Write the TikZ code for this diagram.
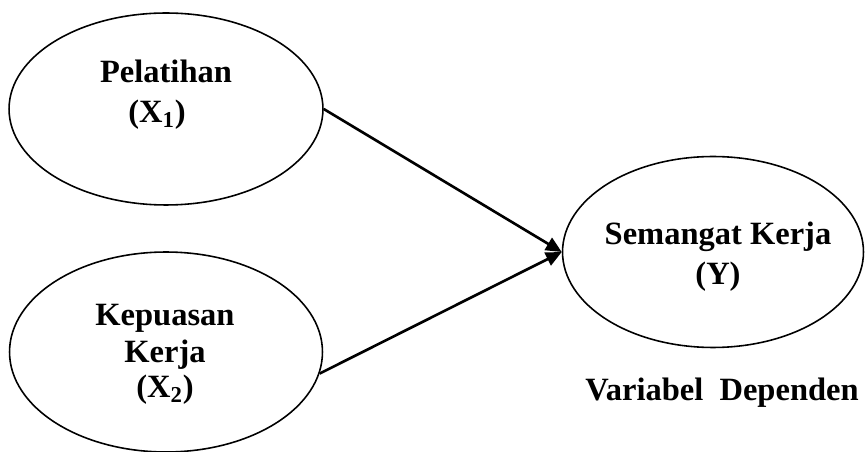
\documentclass[tikz,border=0pt]{standalone}
\usepackage{fontspec}
\setmainfont{Liberation Serif}
\usetikzlibrary{positioning, shapes.geometric, arrows.meta}

\begin{document}
\begin{tikzpicture}[x=0.02cm, y=-0.02cm, font=\fontsize{18.5}{22}\selectfont\bfseries,
  var/.style={draw, ellipse, line width=0.9pt, inner sep=0pt},
  txt/.style={anchor=base, inner sep=0pt},
  link/.style={line width=1.5pt, -{Triangle[length=9pt, width=8pt]}}]

\useasboundingbox (0,0) rectangle (865,452);

% variabel independen
\node[var, minimum width=6.28cm, minimum height=3.84cm] (pelatihan) at (166,109) {};
\node[var, minimum width=6.26cm, minimum height=4cm] (kepuasan) at (166,352) {};

% variabel dependen
\node[var, minimum width=6.02cm, minimum height=3.82cm] (semangat) at (713,252) {};

\node[txt] (pelatihanA) at (166,83) {Pelatihan};
\node[txt] (pelatihanB) at (157,123) {(X\textsubscript{1})};

\node[txt] (kepuasanA) at (165,326) {Kepuasan};
\node[txt] (kepuasanB) at (165,362) {Kerja};
\node[txt] (kepuasanC) at (165,398) {(X\textsubscript{2})};

\node[txt] (semangatA) at (718,245) {Semangat Kerja};
\node[txt] (semangatB) at (718,285) {(Y)};

\node[txt] (dependen) at (722,400) {Variabel\ \ Dependen};

\draw[link] (pelatihan.east) -- (semangat.west);
\draw[link] (kepuasan.-8) -- (semangat.west);

\end{tikzpicture}
\end{document}
